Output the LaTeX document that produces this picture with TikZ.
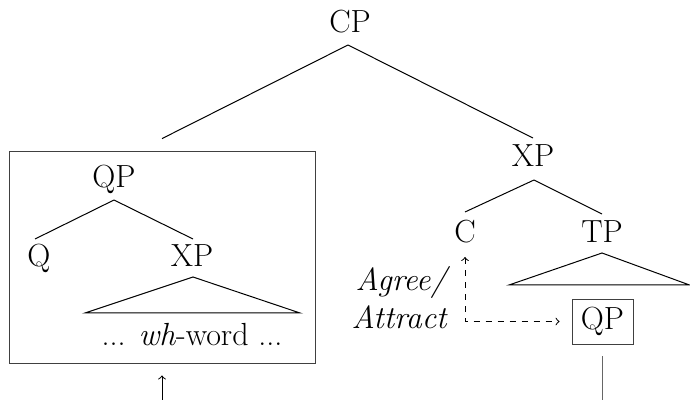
\documentclass[tikz,border=0pt]{standalone}
\begin{document}
\begin{tikzpicture}[x=0.5pt,y=-0.5pt,
  font=\fontsize{16}{19}\selectfont,
  lbl/.style={inner sep=0pt, anchor=base},
  boxed/.style={draw=black!75, inner sep=0pt},
  edge/.style={black, line width=0.5pt}]
\useasboundingbox (0,0) rectangle (690,400);
% nodes
\node[lbl] (CP) at (350,33) {CP};
\node[lbl] (XPr) at (533,167) {XP};
\node[lbl] (C) at (465,243) {C};
\node[lbl] (TP) at (602,243) {TP};
\node[boxed, minimum width=153pt, minimum height=106pt] (box) at (162,257) {};
\node[lbl] (QPl) at (114,188) {QP};
\node[lbl] (Q) at (39,267) {Q};
\node[lbl] (XPl) at (192,267) {XP};
\node[lbl] (wh) at (192,345) {... \textit{wh}-word ...};
\node[boxed, minimum width=30.5pt, minimum height=22.5pt] (QPr) at (602.5,321.5) {QP};
\node[anchor=east, align=right, inner sep=0pt,
  font=\fontsize{16}{19}\selectfont\itshape] (agree) at (447,298) {Agree/\\Attract};
\coordinate (botR) at (602.5,400);
\coordinate (botL) at (162,400);
% tree edges
\coordinate (cpA) at ([shift={(-2,12)}]CP.base);
\draw[edge] (cpA) -- ([shift={(0,-12)}]box.north);
\draw[edge] (cpA) -- ([shift={(0,-29)}]XPr.base);
\coordinate (xA) at ([shift={(1,13)}]XPr.base);
\draw[edge] (xA) -- ([shift={(0,-31)}]C.base);
\draw[edge] (xA) -- ([shift={(0,-29)}]TP.base);
\draw[edge] ([shift={(-93,42)}]TP.base) -- ([shift={(0,10)}]TP.base) -- ([shift={(87.5,42)}]TP.base) -- cycle;
\coordinate (qA) at ([shift={(0,12)}]QPl.base);
\draw[edge] (qA) -- ([shift={(-4,-28)}]Q.base);
\draw[edge] (qA) -- ([shift={(1,-28)}]XPl.base);
\draw[edge] ([shift={(-107,46)}]XPl.base) -- ([shift={(1,10)}]XPl.base) -- ([shift={(108,46)}]XPl.base) -- cycle;
% arrows
\draw[edge, dashed, <->] ([shift={(0,14)}]C.base) |- ([shift={(-12,0)}]QPr.west);
\draw[black!60, line width=0.6pt] ([shift={(0,12)}]QPr.south) -- (botR);
\draw[edge, ->] (botL) -- ([shift={(0,12)}]box.south);
\end{tikzpicture}
\end{document}
